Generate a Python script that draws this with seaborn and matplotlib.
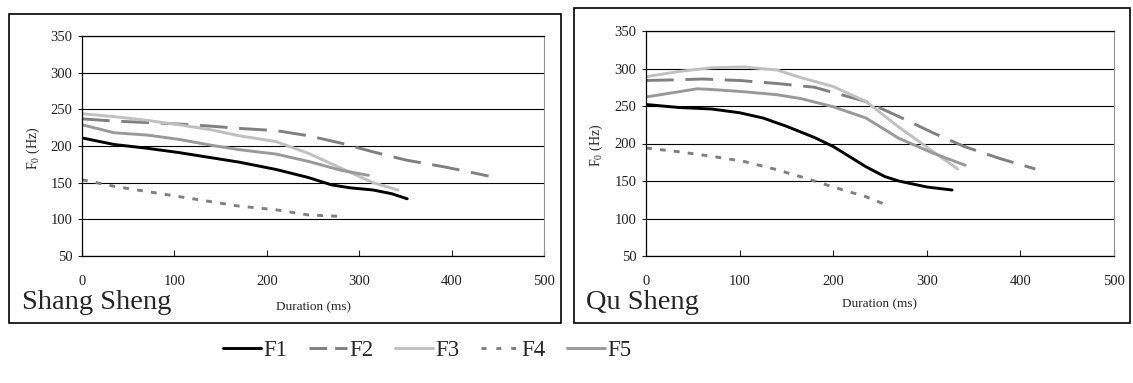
import numpy as np
import pandas as pd
import matplotlib
matplotlib.use("Agg")
import matplotlib.pyplot as plt
from matplotlib.patches import Rectangle
import seaborn as sns

# ---------------- data ----------------
series_names = ["F1", "F2", "F3", "F4", "F5"]
x_ticks = [0, 100, 200, 300, 400, 500]
y_ticks = [50, 100, 150, 200, 250, 300, 350]

# Shang Sheng (left panel)
ss_f1_ms = [0, 35, 70, 105, 140, 170, 210, 245, 270, 290, 315, 335, 352]
ss_f1_hz = [211, 202, 197, 191, 184, 178, 168, 157, 147, 143, 140, 135, 128]
ss_f2_ms = [0, 35, 70, 105, 140, 170, 210, 245, 280, 315, 350, 390, 410, 440]
ss_f2_hz = [237, 234, 232, 230, 227, 224, 221, 214, 204, 192, 181, 172, 167, 159]
ss_f3_ms = [0, 35, 70, 105, 140, 170, 210, 245, 280, 315, 342]
ss_f3_hz = [244, 240, 235, 229, 222, 214, 206, 190, 170, 150, 140]
ss_f4_ms = [0, 35, 70, 105, 140, 170, 210, 245, 280]
ss_f4_hz = [154, 145, 138, 131, 124, 118, 113, 106, 104]
ss_f5_ms = [0, 35, 70, 105, 140, 170, 210, 245, 280, 310]
ss_f5_hz = [229, 218, 215, 209, 201, 195, 189, 179, 167, 160]

# Qu Sheng (right panel)
qs_f1_ms = [0, 35, 70, 100, 125, 150, 180, 200, 235, 255, 270, 300, 327]
qs_f1_hz = [252, 248, 246, 241, 234, 223, 208, 196, 169, 156, 150, 142, 138]
qs_f2_ms = [0, 35, 60, 100, 140, 180, 200, 235, 270, 307, 340, 378, 416]
qs_f2_hz = [284, 285, 286, 284, 280, 275, 268, 256, 236, 214, 196, 180, 166]
qs_f3_ms = [0, 35, 70, 105, 140, 165, 200, 235, 270, 307, 333]
qs_f3_hz = [289, 296, 301, 302, 298, 288, 276, 256, 222, 189, 166]
qs_f4_ms = [0, 35, 70, 105, 140, 170, 200, 235, 255]
qs_f4_hz = [194, 189, 183, 176, 165, 154, 142, 129, 119]
qs_f5_ms = [0, 35, 55, 70, 105, 140, 165, 200, 235, 270, 307, 341]
qs_f5_hz = [262, 269, 273, 272, 269, 265, 260, 249, 234, 207, 187, 171]


def make_df(parts):
    frames = []
    for name, ms, hz in parts:
        frames.append(pd.DataFrame({"ms": ms, "hz": hz, "series": name}))
    return pd.concat(frames, ignore_index=True)


df_ss = make_df([("F1", ss_f1_ms, ss_f1_hz), ("F2", ss_f2_ms, ss_f2_hz),
                 ("F3", ss_f3_ms, ss_f3_hz), ("F4", ss_f4_ms, ss_f4_hz),
                 ("F5", ss_f5_ms, ss_f5_hz)])
df_qs = make_df([("F1", qs_f1_ms, qs_f1_hz), ("F2", qs_f2_ms, qs_f2_hz),
                 ("F3", qs_f3_ms, qs_f3_hz), ("F4", qs_f4_ms, qs_f4_hz),
                 ("F5", qs_f5_ms, qs_f5_hz)])

# ---------------- style ----------------
sns.set_style("white")
plt.rcParams["font.family"] = ["Liberation Serif", "DejaVu Serif"]
plt.rcParams["mathtext.default"] = "regular"

palette = {"F1": "#000000", "F2": "#808080", "F3": "#c0c0c0",
           "F4": "#808080", "F5": "#999999"}
dashes = {"F1": "", "F2": (9.5, 4), "F3": "", "F4": (2, 2.8), "F5": ""}

fig = plt.figure(figsize=(11.33, 3.83), dpi=100)

# outer frames around each chart
fig.add_artist(Rectangle((9 / 1133, 1 - 323 / 383), 552 / 1133, 309 / 383,
                         transform=fig.transFigure, fill=False, ec="black", lw=1.2))
fig.add_artist(Rectangle((574 / 1133, 1 - 323 / 383), 556 / 1133, 315 / 383,
                         transform=fig.transFigure, fill=False, ec="black", lw=1.2))

ax1 = fig.add_axes([82 / 1133, 1 - 256 / 383, 462 / 1133, 220 / 383])
ax2 = fig.add_axes([646 / 1133, 1 - 256 / 383, 468 / 1133, 225 / 383])

panels = [(ax1, df_ss, -0.205, -0.087), (ax2, df_qs, -0.19, -0.088)]
for ax, df, xl_y, yl_x in panels:
    sns.lineplot(data=df, x="ms", y="hz", hue="series", style="series",
                 hue_order=series_names, style_order=series_names,
                 palette=palette, dashes=dashes, linewidth=2.1,
                 estimator=None, sort=False, ax=ax)
    ax.set_xlim(0, 500)
    ax.set_ylim(50, 350)
    ax.set_xticks(x_ticks)
    ax.set_yticks(y_ticks)
    ax.yaxis.grid(True, color="black", lw=0.8)
    ax.xaxis.grid(False)
    for side in ["left", "bottom", "top"]:
        ax.spines[side].set_color("black")
        ax.spines[side].set_linewidth(0.9)
    ax.spines["right"].set_color("#909090")
    ax.spines["right"].set_linewidth(0.8)
    ax.tick_params(axis="x", direction="in", length=4, width=0.8,
                   pad=14, labelsize=10.5, colors="#222222", bottom=True)
    ax.tick_params(axis="y", direction="out", length=3, width=0.8,
                   pad=4, labelsize=10.5, colors="#222222", left=True)
    ax.set_xlabel("Duration (ms)", fontsize=9.5)
    ax.set_ylabel(r"F$_{0}$ (Hz)", fontsize=10)
    ax.xaxis.set_label_coords(0.5, xl_y)
    ax.yaxis.set_label_coords(yl_x, 0.49)

handles, labels = ax1.get_legend_handles_labels()
keep = [(h, l) for h, l in zip(handles, labels) if l in series_names]
ax1.get_legend().remove()
ax2.get_legend().remove()

leg = fig.legend([h for h, l in keep], [l for h, l in keep], loc="center",
                 bbox_to_anchor=(427 / 1133, 1 - 350 / 383), ncol=5, frameon=False,
                 fontsize=16.5, handlelength=1.65, handletextpad=0.1,
                 columnspacing=0.95)
leg_lines = leg.get_lines()
leg_lines[1].set_dashes([6, 2.8])
leg_lines[3].set_dashes([1.7, 3.4])

fig.text(22 / 1133, 1 - 309 / 383, "Shang Sheng", fontsize=20.5, va="baseline")
fig.text(586 / 1133, 1 - 309 / 383, "Qu Sheng", fontsize=20.5, va="baseline")

fig.savefig("out.png", dpi=100)
